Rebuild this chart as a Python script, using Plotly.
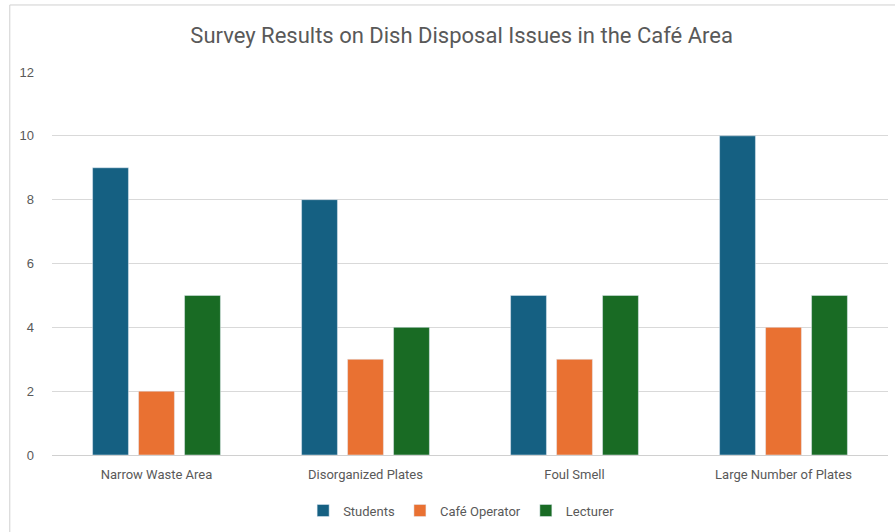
import plotly.graph_objects as go

categories = ["Narrow Waste Area", "Disorganized Plates", "Foul Smell", "Large Number of Plates"]
students = [9, 8, 5, 10]
cafe_operator = [2, 3, 3, 4]
lecturer = [5, 4, 5, 5]
y_ticks = [0, 2, 4, 6, 8, 10, 12]

font = "Roboto, Liberation Sans, sans-serif"
grey = "#595959"

fig = go.Figure()
fig.add_bar(name="Students", x=categories, y=students, marker_color="#156082")
fig.add_bar(name="Café Operator", x=categories, y=cafe_operator, marker_color="#E97132")
fig.add_bar(name="Lecturer", x=categories, y=lecturer, marker_color="#196B24")

fig.update_layout(
    width=895, height=532,
    margin=dict(l=52, r=7, t=72, b=77),
    paper_bgcolor="white", plot_bgcolor="white",
    barmode="group", bargap=0.34, bargroupgap=0.22,
    title=dict(text="Survey Results on Dish Disposal Issues in the Café Area",
               x=0.49, xref="paper", xanchor="center", y=1 - 35/532, yanchor="middle",
               font=dict(family=font, size=22, color=grey)),
    xaxis=dict(tickfont=dict(family=font, size=13, color=grey), showgrid=False,
               showline=False, ticks="", ticklabelstandoff=10),
    yaxis=dict(range=[0, 12], tickvals=y_ticks, showgrid=True, gridcolor="#d9d9d9",
               gridwidth=1, zeroline=True, zerolinecolor="#d0d0d0", zerolinewidth=1,
               tickfont=dict(family="Liberation Sans, Arial, sans-serif", size=13, color=grey),
               ticklabelstandoff=17, ticks=""),
    legend=dict(orientation="h", x=0.49, xanchor="center", y=-0.145, yanchor="middle",
                font=dict(family=font, size=13, color=grey),
                itemwidth=30, traceorder="normal"),
    showlegend=True,
)

# chart border (left and top edges visible in reference)
fig.add_shape(type="line", xref="paper", yref="paper", x0=-0.0505, x1=1.1, y0=1.175, y1=1.175,
              line=dict(color="#d0d0d0", width=1))
fig.add_shape(type="line", xref="paper", yref="paper", x0=-0.0505, x1=-0.0505, y0=1.175, y1=-0.3,
              line=dict(color="#d0d0d0", width=1))

fig.write_html("out.html")
